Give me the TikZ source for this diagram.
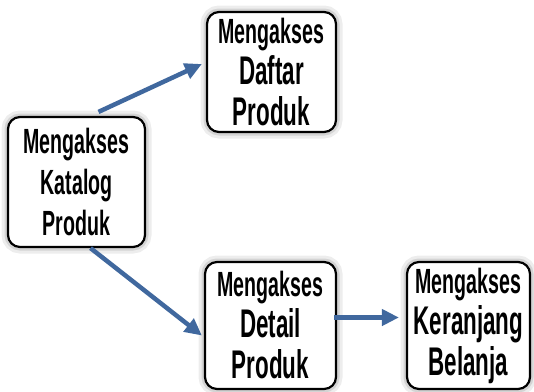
\documentclass[tikz,border=0pt]{standalone}
\usepackage{fontspec}
\setmainfont{Liberation Sans}[FakeStretch=0.56]
\usetikzlibrary{arrows.meta}
\definecolor{panahbiru}{RGB}{64,104,158}
\newcommand\hurufbesar{\fontsize{40}{43}\selectfont}

\begin{document}
\begin{tikzpicture}[x=1pt, y=-1pt,
  kotak/.style={draw=black, line width=2.2pt, fill=white, rounded corners=12pt,
    inner sep=0pt, align=center, font=\bfseries\fontsize{35}{41}\selectfont,
    preaction={draw=black!7, line width=13pt},
    preaction={draw=black!17, line width=7pt}},
  panah/.style={draw=panahbiru, line width=4.5pt, -{Triangle[length=17pt, width=16pt]}}]

\useasboundingbox (0,0) rectangle (534,391);

%---kotak---

\node[kotak, minimum width=137pt, minimum height=130pt] (katalog) at (76.5,182) {Mengakses\\Katalog\\Produk};
\node[kotak, minimum width=129pt, minimum height=120pt] (daftar) at (271.5,72) {Mengakses\\\hurufbesar Daftar\\\hurufbesar Produk};
\node[kotak, minimum width=131pt, minimum height=127pt] (detail) at (270.5,325.5) {Mengakses\\\hurufbesar Detail\\\hurufbesar Produk};
\node[kotak, minimum width=123pt, minimum height=127pt] (keranjang) at (468.5,325.5) {Mengakses\\\hurufbesar Keranjang\\\hurufbesar Belanja};

%---panah---

\draw[panah] ([xshift=22pt, yshift=4pt]katalog.north) -- ([xshift=-4pt, yshift=8pt]daftar.west);
\draw[panah] ([xshift=14pt]katalog.south) -- ([xshift=-2pt, yshift=-10pt]detail.west);
\draw[panah] ([xshift=-3pt, yshift=8pt]detail.east) -- ([xshift=-7pt, yshift=8pt]keranjang.west);

\end{tikzpicture}
\end{document}
